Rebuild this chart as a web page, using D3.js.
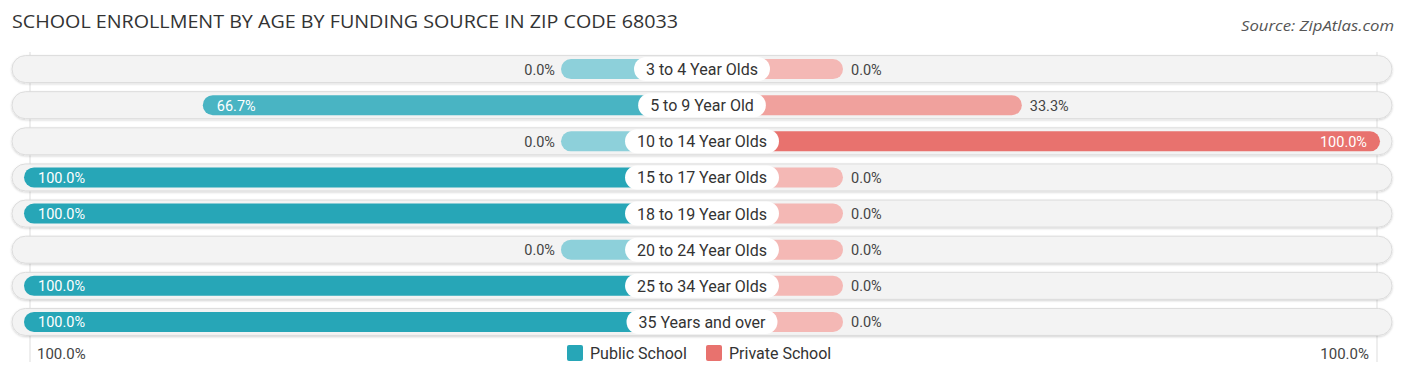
<!DOCTYPE html>
<html><head><meta charset="utf-8">
<script src="https://cdn.jsdelivr.net/npm/d3@7/dist/d3.min.js"></script>
<style>body{margin:0;background:#fff;}svg{display:block;}</style>
</head><body>
<svg id="chart" width="1406" height="378"></svg>
<script>
const categories = ["3 to 4 Year Olds","5 to 9 Year Old","10 to 14 Year Olds","15 to 17 Year Olds","18 to 19 Year Olds","20 to 24 Year Olds","25 to 34 Year Olds","35 Years and over"];
const publicValues = [0, 66.7, 0, 100, 100, 0, 100, 100];
const privateValues = [0, 33.3, 100, 0, 0, 0, 0, 0];
const seriesNames = ["Public School","Private School"];
const axisLabels = ["100.0%","100.0%"];
const title = "SCHOOL ENROLLMENT BY AGE BY FUNDING SOURCE IN ZIP CODE 68033";
const source = "Source: ZipAtlas.com";

const svg = d3.select("#chart");
const cx = 702;
const font = "Roboto, 'Open Sans', sans-serif";

const y = d3.scaleBand().domain(categories).range([51, 340]).paddingInner(0).paddingOuter(0);
const w = d3.scaleLinear().domain([0, 100]).range([141, 678]);
const pubColor = d3.scaleLinear().domain([0, 100]).range(["#8dd0da", "#27a6b7"]);
const privColor = d3.scaleLinear().domain([0, 100]).range(["#f4b8b5", "#e8726e"]);

const defs = svg.append("defs");
const f = defs.append("filter").attr("id","sh").attr("x","-5%").attr("y","-50%").attr("width","110%").attr("height","200%");
f.append("feDropShadow").attr("dx",0).attr("dy",1).attr("stdDeviation",1).attr("flood-color","#000").attr("flood-opacity",0.18);

svg.append("text").attr("x", 12).attr("y", 28).text(title)
  .attr("font-family","'Open Sans', sans-serif").attr("font-size", 18).attr("fill","#333")
  .attr("textLength", 666).attr("lengthAdjust","spacingAndGlyphs");
svg.append("text").attr("x", 1394).attr("y", 31).attr("text-anchor","end").text(source)
  .attr("font-family","'Open Sans', sans-serif").attr("font-style","italic").attr("font-size", 14.5).attr("fill","#555")
  .attr("textLength", 153).attr("lengthAdjust","spacingAndGlyphs");

// faint guide lines
[30, 1377].forEach(x => svg.append("line").attr("x1",x).attr("x2",x).attr("y1",52).attr("y2",362).attr("stroke","#ddd").attr("stroke-width",1));

const rows = svg.selectAll("g.row").data(categories).join("g").attr("class","row")
  .attr("transform", d => `translate(0,${y(d) + y.bandwidth()/2})`);

rows.append("rect").attr("x", 12).attr("y", -13.5).attr("width", 1380).attr("height", 27).attr("rx", 13.5)
  .attr("fill","#f3f3f3").attr("stroke","#dcdcdc").attr("stroke-width",1).attr("filter","url(#sh)");

rows.append("rect").attr("x", (d,i) => cx - w(publicValues[i])).attr("y", -10).attr("height", 20)
  .attr("width", (d,i) => w(publicValues[i])).attr("rx", 10).attr("fill", (d,i) => pubColor(publicValues[i]));
rows.append("rect").attr("x", cx).attr("y", -10).attr("height", 20)
  .attr("width", (d,i) => w(privateValues[i])).attr("rx", 10).attr("fill", (d,i) => privColor(privateValues[i]));

// labels
rows.each(function(d, i) {
  const g = d3.select(this);
  const t = g.append("text").attr("x", cx).attr("y", 6).attr("text-anchor","middle").text(d)
    .attr("font-family", font).attr("font-size", 16).attr("fill","#333");
  const bw = t.node().getComputedTextLength() + 24;
  g.insert("rect", "text").attr("x", cx - bw/2).attr("y", -12).attr("width", bw).attr("height", 24).attr("rx", 12).attr("fill","#fff");
  const pv = publicValues[i], qv = privateValues[i];
  const fmt = v => v.toFixed(1) + "%";
  if (pv > 50) {
    g.append("text").attr("x", cx - w(pv) + 14).attr("y", 5.5).text(fmt(pv)).attr("font-family", font).attr("font-size", 14.5).attr("fill","#fff");
  } else {
    g.append("text").attr("x", cx - w(pv) - 6).attr("y", 5.5).attr("text-anchor","end").text(fmt(pv)).attr("font-family", font).attr("font-size", 14.5).attr("fill","#444");
  }
  if (qv > 50) {
    g.append("text").attr("x", cx + w(qv) - 13).attr("y", 5.5).attr("text-anchor","end").text(fmt(qv)).attr("font-family", font).attr("font-size", 14.5).attr("fill","#fff");
  } else {
    g.append("text").attr("x", cx + w(qv) + 8).attr("y", 5.5).text(fmt(qv)).attr("font-family", font).attr("font-size", 14.5).attr("fill","#444");
  }
});

// bottom axis labels
svg.append("text").attr("x", 37).attr("y", 359).text(axisLabels[0]).attr("font-family", font).attr("font-size", 15).attr("fill","#444");
svg.append("text").attr("x", 1369).attr("y", 359).attr("text-anchor","end").text(axisLabels[1]).attr("font-family", font).attr("font-size", 15).attr("fill","#444");

// legend
const legend = [{name: seriesNames[0], color: "#27a6b7", x: 567}, {name: seriesNames[1], color: "#e8726e", x: 706}];
legend.forEach(l => {
  svg.append("rect").attr("x", l.x).attr("y", 345).attr("width", 16).attr("height", 16).attr("rx", 2).attr("fill", l.color);
  svg.append("text").attr("x", l.x + 23).attr("y", 359).text(l.name).attr("font-family", font).attr("font-size", 16).attr("fill","#333");
});
</script>
</body></html>
